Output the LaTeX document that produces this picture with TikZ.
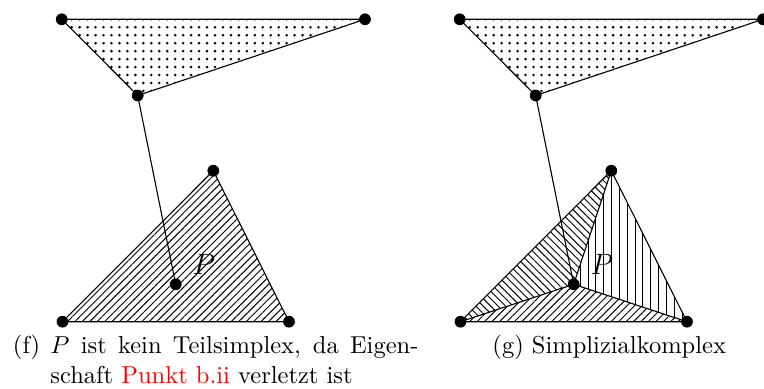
\documentclass[tikz,border=0pt]{standalone}
\usetikzlibrary{patterns.meta}
\begin{document}
\begin{tikzpicture}[x=0.40816pt,y=-0.40816pt,
  vdot/.style={circle,fill=black,inner sep=0pt,minimum size=4.8pt},
  edge/.style={draw=black,line width=0.45pt},
  dotfill/.style={pattern={Dots[distance=3.25pt,radius=0.58pt,yshift=1.4pt]},pattern color=black},
  nefill/.style={pattern={Lines[angle=45,distance=2.15pt,line width=0.4pt]},pattern color=black},
  nwfill/.style={pattern={Lines[angle=-45,distance=2.15pt,line width=0.4pt]},pattern color=black},
  vfill/.style={pattern={Lines[angle=90,distance=3.2pt,line width=0.4pt]},pattern color=black},
  plabel/.style={inner sep=0pt,font=\large},
  capt/.style={inner sep=0pt,anchor=base west}]
\useasboundingbox (0,0) rectangle (764,389);
% ---------- left figure (f) ----------
\coordinate (a1) at (61.7,19.3);
\coordinate (b1) at (365,19.3);
\coordinate (c1) at (137.7,95.5);
\coordinate (t1) at (213.3,170.7);
\coordinate (l1) at (62.5,321.7);
\coordinate (r1) at (289,321.7);
\coordinate (p1) at (175.7,284.3);
\fill[dotfill] (a1) -- (b1) -- (c1) -- cycle;
\draw[edge] (a1) -- (b1) -- (c1) -- cycle;
\fill[nefill] (l1) -- (t1) -- (r1) -- cycle;
\draw[edge] (l1) -- (t1) -- (r1) -- cycle;
\draw[edge] (c1) -- (p1);
\node[plabel] (P1) at (204,264.3) {$P$};
\foreach \v in {a1,b1,c1,t1,l1,r1,p1} \node[vdot] (d\v) at (\v) {};
% ---------- right figure (g) ----------
\coordinate (a2) at (459.7,19.3);
\coordinate (b2) at (763,19.3);
\coordinate (c2) at (535.7,95.5);
\coordinate (t2) at (611.3,170.7);
\coordinate (l2) at (460.5,321.7);
\coordinate (r2) at (687,321.7);
\coordinate (p2) at (573.7,284.3);
\fill[dotfill] (a2) -- (b2) -- (c2) -- cycle;
\draw[edge] (a2) -- (b2) -- (c2) -- cycle;
\fill[nwfill] (l2) -- (t2) -- (p2) -- cycle;
\fill[nefill] (l2) -- (p2) -- (r2) -- cycle;
\fill[vfill] (p2) -- (t2) -- (r2) -- cycle;
\draw[edge] (l2) -- (t2) -- (r2) -- cycle;
\draw[edge] (p2) -- (l2);
\draw[edge] (p2) -- (t2);
\draw[edge] (p2) -- (r2);
\draw[edge] (c2) -- (p2);
\node[plabel] (P2) at (602,264.3) {$P$};
\foreach \v in {a2,b2,c2,t2,l2,r2,p2} \node[vdot] (d\v) at (\v) {};
% ---------- captions ----------
\node[capt] (fl) at (12.5,353) {(f)};
\node[capt] (f1) at (50,353) {\hbox to 150.2pt{$P$ ist kein Teilsimplex, da Eigen-}};
\node[capt] (f2) at (50,383) {schaft \textcolor{red}{Punkt b.ii} verletzt ist};
\node[capt] (g1) at (492,353) {(g) Simplizialkomplex};
\end{tikzpicture}
\end{document}
